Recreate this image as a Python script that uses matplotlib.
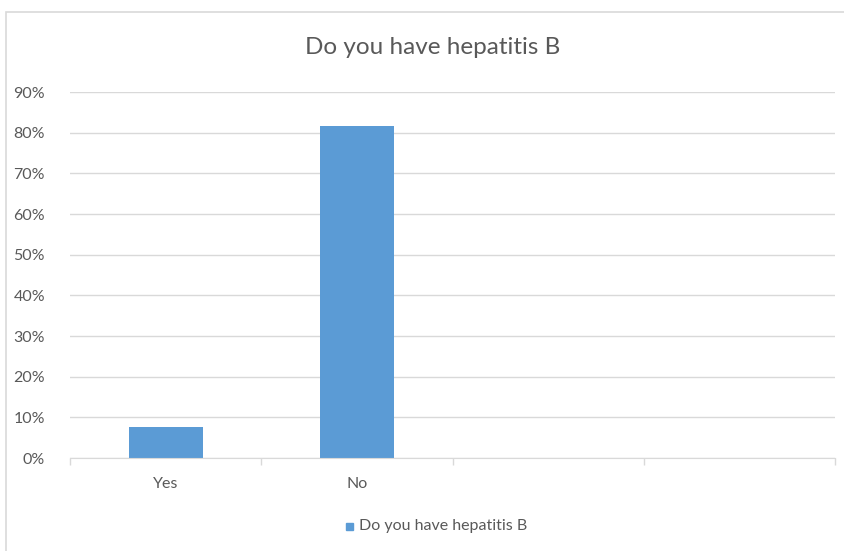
import matplotlib
matplotlib.use("Agg")
import matplotlib.pyplot as plt
from matplotlib.patches import Rectangle
from matplotlib.ticker import FuncFormatter, FixedLocator

# --- dados ---
categorias = ["Yes", "No", "", ""]
valores = [0.076, 0.816, 0, 0]
titulo = "Do you have hepatitis B"
serie = "Do you have hepatitis B"

COR_BARRA = "#5B9BD5"
COR_GRADE = "#D9D9D9"
COR_TEXTO = "#595959"
FONTE = ["Lato", "DejaVu Sans"]

plt.rcParams["font.family"] = FONTE

fig = plt.figure(figsize=(8.44, 5.51), dpi=100)
W, H = 844, 551

# borda do quadro do gráfico (sai pela direita e por baixo)
fig.patches.append(Rectangle((6 / W, -0.05), 1.0, 1 - 12 / H + 0.05,
                             transform=fig.transFigure, fill=False,
                             edgecolor="#D9D9D9", linewidth=1.2))

ax = fig.add_axes([70 / W, 1 - 458 / H, (835 - 70) / W, (458 - 92) / H])

pos = list(range(len(categorias)))
ax.bar(pos, valores, width=0.387, color=COR_BARRA, zorder=3)

ax.set_xlim(-0.5, len(categorias) - 0.5)
ax.set_ylim(0, 0.9)
ax.set_yticks([i / 10 for i in range(10)])
ax.yaxis.set_major_formatter(FuncFormatter(lambda v, _: f"{v * 100:.0f}%"))
ax.grid(axis="y", color=COR_GRADE, linewidth=1, zorder=0)

# ticks nas divisões entre categorias, rótulos no centro
ax.xaxis.set_major_locator(FixedLocator([p - 0.5 for p in pos] + [pos[-1] + 0.5]))
ax.set_xticklabels([])
ax.set_xticks(pos, minor=True)
ax.set_xticklabels(categorias, minor=True)
ax.tick_params(axis="x", which="major", length=5, color=COR_GRADE, width=1)
ax.tick_params(axis="x", which="minor", length=0, pad=14, labelsize=11.5, labelcolor=COR_TEXTO)
ax.tick_params(axis="y", length=0, pad=18, labelsize=11.5, labelcolor=COR_TEXTO)

for s in ["top", "right", "left"]:
    ax.spines[s].set_visible(False)
ax.spines["bottom"].set_color(COR_GRADE)
ax.spines["bottom"].set_zorder(4)

fig.text(433 / W, 1 - 48 / H, titulo, ha="center", va="center",
         fontsize=17.5, color=COR_TEXTO)

# legenda
fig.patches.append(Rectangle((346 / W, 1 - 530 / H), 7 / W, 7 / H,
                             transform=fig.transFigure, color=COR_BARRA))
fig.text(359 / W, 1 - 526 / H, serie, ha="left", va="center",
         fontsize=11.5, color=COR_TEXTO)

fig.savefig("out.png", dpi=100)
